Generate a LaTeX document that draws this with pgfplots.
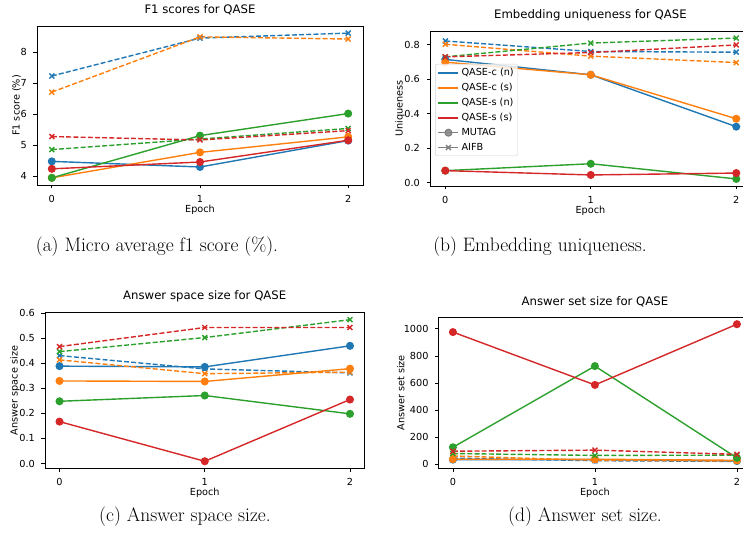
\documentclass[border=0pt]{standalone}
\usepackage{fontspec}
\usepackage{pgfplots}
\pgfplotsset{compat=1.18}
\newfontfamily\djv{DejaVu Sans}
\newcommand\ticksize{\djv\fontsize{9.7bp}{11bp}\selectfont}
\newcommand\titlesize{\djv\fontsize{11.7bp}{14bp}\selectfont}
\newcommand\capsize{\fontsize{19.5bp}{23bp}\selectfont}
\definecolor{tblue}{HTML}{1F77B4}
\definecolor{torange}{HTML}{FF7F0E}
\definecolor{tgreen}{HTML}{2CA02C}
\definecolor{tred}{HTML}{D62728}
\pgfplotsset{
  mutag/.style={solid, mark=*, mark size=3.3bp},
  aifb/.style={dash pattern=on 5bp off 2.2bp, mark=x, mark size=3.5bp, mark options={solid}},
  ylab/.style={every axis y label/.style={at={(axis description cs:0,0.5)}, xshift=#1, rotate=90, anchor=center, font=\ticksize}},
  base/.style={
    scale only axis, xmin=-0.1, xmax=2.1, xtick={0,1,2},
    tick align=outside, tick pos=left, major tick length=3.5bp,
    axis line style={line width=0.8bp},
    every tick/.style={black, line width=0.8bp},
    tick label style={font=\ticksize},
    /pgf/number format/assume math mode=true,
    scaled y ticks=false,
    xticklabel style={anchor=north, inner sep=0pt, yshift=-6.5bp},
    yticklabel style={anchor=east, inner sep=0pt, xshift=-6.5bp},
    every axis x label/.style={at={(axis description cs:0.5,0)}, anchor=center, yshift=-25bp, font=\ticksize},
    title style={font=\titlesize, at={(0.5,1)}, anchor=center, yshift=10bp},
    xlabel={Epoch},
    every axis plot/.append style={line width=1.4bp},
  },
}
\begin{document}
\begin{tikzpicture}[x=1bp,y=1bp]
\useasboundingbox (0,0) rectangle (743,540);
\clip (0,0) rectangle (743,540);

% (a)
\begin{axis}[base, at={(37bp,355bp)}, anchor=south west, width=326bp, height=159bp,
  ymin=3.72, ymax=8.84, ytick={4,5,6,7,8},
  title={F1 scores for QASE}, ylabel={F1 score (\%)}, ylab=-20.3bp]
\addplot[tblue, mutag] coordinates {(0,4.48)(1,4.30)(2,5.15)};
\addplot[tblue, aifb] coordinates {(0,7.23)(1,8.45)(2,8.61)};
\addplot[torange, mutag] coordinates {(0,3.95)(1,4.77)(2,5.27)};
\addplot[torange, aifb] coordinates {(0,6.71)(1,8.49)(2,8.42)};
\addplot[tgreen, mutag] coordinates {(0,3.95)(1,5.31)(2,6.02)};
\addplot[tgreen, aifb] coordinates {(0,4.86)(1,5.20)(2,5.54)};
\addplot[tred, mutag] coordinates {(0,4.24)(1,4.46)(2,5.16)};
\addplot[tred, aifb] coordinates {(0,5.28)(1,5.17)(2,5.47)};
\end{axis}

% (b)
\begin{axis}[base, at={(430bp,354bp)}, anchor=south west, width=320.8bp, height=155bp,
  xmin=-0.105, ymin=-0.02, ymax=0.879, ytick={0,0.2,0.4,0.6,0.8},
  yticklabel style={/pgf/number format/fixed, /pgf/number format/fixed zerofill, /pgf/number format/precision=1},
  title={Embedding uniqueness for QASE}, ylabel={Uniqueness}, ylab=-30bp,
  legend style={at={(0.016,0.787)}, anchor=north west, draw=gray!35, rounded corners=2bp,
    fill=white, fill opacity=0.8, text opacity=1, font=\ticksize, inner xsep=2bp, inner ysep=2bp,
    row sep=2.2bp},
  legend cell align=left,
  legend image code/.code={\draw[mark repeat=2, mark phase=2, #1] plot coordinates {(0bp,0bp)(10bp,0bp)(20bp,0bp)};}]
\addplot[tblue, mutag, forget plot] coordinates {(0,0.714)(1,0.625)(2,0.324)};
\addplot[tblue, aifb, forget plot] coordinates {(0,0.821)(1,0.760)(2,0.756)};
\addplot[torange, mutag, forget plot] coordinates {(0,0.698)(1,0.625)(2,0.370)};
\addplot[torange, aifb, forget plot] coordinates {(0,0.802)(1,0.733)(2,0.696)};
\addplot[tgreen, mutag, forget plot] coordinates {(0,0.069)(1,0.109)(2,0.021)};
\addplot[tgreen, aifb, forget plot] coordinates {(0,0.729)(1,0.809)(2,0.838)};
\addplot[tred, mutag, forget plot] coordinates {(0,0.069)(1,0.044)(2,0.055)};
\addplot[tred, aifb, forget plot] coordinates {(0,0.729)(1,0.754)(2,0.798)};
\addlegendimage{tblue, line width=2.2bp}\addlegendentry{QASE-c (n)}
\addlegendimage{torange, line width=2.2bp}\addlegendentry{QASE-c (s)}
\addlegendimage{tgreen, line width=2.2bp}\addlegendentry{QASE-s (n)}
\addlegendimage{tred, line width=2.2bp}\addlegendentry{QASE-s (s)}
\addlegendimage{gray, line width=1.4bp, mark=*, mark size=3.3bp}\addlegendentry{MUTAG}
\addlegendimage{gray, line width=1.4bp, mark=x, mark size=3.5bp}\addlegendentry{AIFB}
\end{axis}

% (c)
\begin{axis}[base, at={(45bp,71.7bp)}, anchor=south west, width=319.5bp, height=155.6bp,
  ymin=-0.019, ymax=0.601, ytick={0,0.1,0.2,0.3,0.4,0.5,0.6},
  yticklabel style={/pgf/number format/fixed, /pgf/number format/fixed zerofill, /pgf/number format/precision=1},
  title={Answer space size for QASE}, ylabel={Answer space size}, ylab=-30bp]
\addplot[tblue, mutag] coordinates {(0,0.388)(1,0.385)(2,0.469)};
\addplot[tblue, aifb] coordinates {(0,0.430)(1,0.377)(2,0.361)};
\addplot[torange, mutag] coordinates {(0,0.329)(1,0.327)(2,0.378)};
\addplot[torange, aifb] coordinates {(0,0.413)(1,0.358)(2,0.364)};
\addplot[tgreen, mutag] coordinates {(0,0.248)(1,0.271)(2,0.198)};
\addplot[tgreen, aifb] coordinates {(0,0.446)(1,0.502)(2,0.573)};
\addplot[tred, mutag] coordinates {(0,0.167)(1,0.009)(2,0.255)};
\addplot[tred, aifb] coordinates {(0,0.466)(1,0.542)(2,0.542)};
\end{axis}

% (d)
\begin{axis}[base, at={(438.7bp,71.7bp)}, anchor=south west, width=312.4bp, height=151bp,
  ymin=-29, ymax=1085, ytick={0,200,400,600,800,1000},
  yticklabel style={/pgf/number format/1000 sep={}},
  title={Answer set size for QASE}, ylabel={Answer set size}, ylab=-38bp]
\addplot[tblue, mutag] coordinates {(0,35)(1,35)(2,25)};
\addplot[tblue, aifb] coordinates {(0,46)(1,27)(2,22)};
\addplot[torange, mutag] coordinates {(0,38)(1,38)(2,30)};
\addplot[torange, aifb] coordinates {(0,62)(1,30)(2,25)};
\addplot[tgreen, mutag] coordinates {(0,126)(1,725)(2,48)};
\addplot[tgreen, aifb] coordinates {(0,80)(1,66)(2,68)};
\addplot[tred, mutag] coordinates {(0,976)(1,586)(2,1034)};
\addplot[tred, aifb] coordinates {(0,97)(1,105)(2,74)};
\end{axis}

\node[font=\capsize] at (157,293) {(a) Micro average f1 score (\%).};
\node[font=\capsize] at (540,293) {(b) Embedding uniqueness.};
\node[font=\capsize] at (185,23) {(c) Answer space size.};
\node[font=\capsize] at (585,23) {(d) Answer set size.};
\end{tikzpicture}
\end{document}
